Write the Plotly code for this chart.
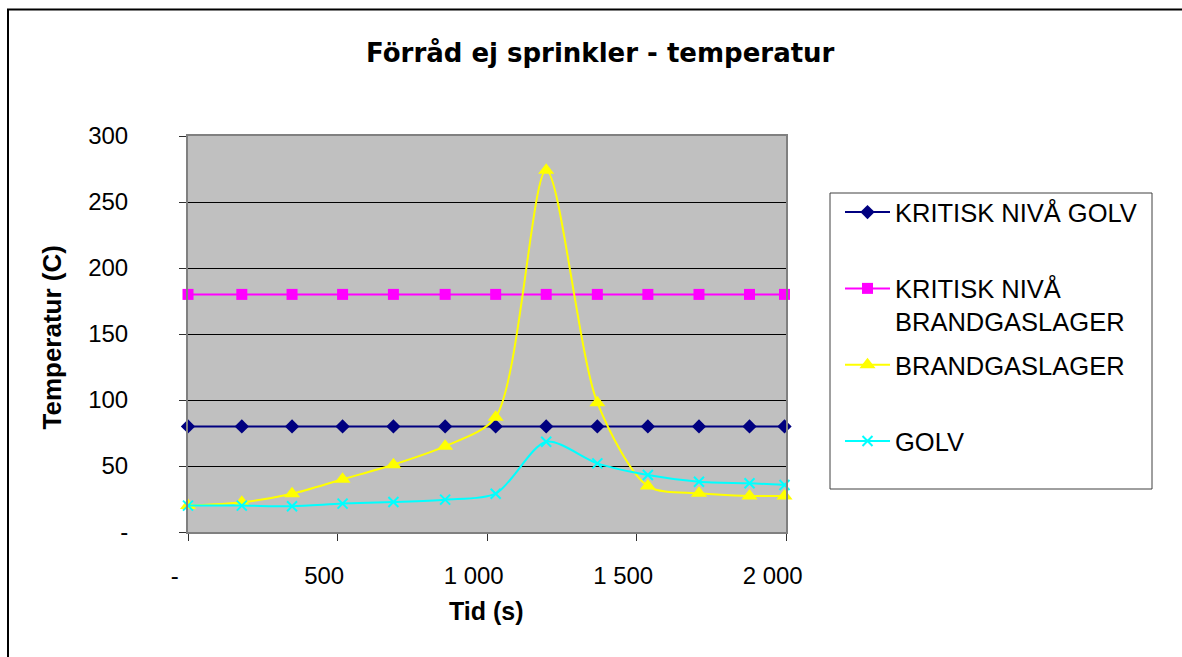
import plotly.graph_objects as go

# ---- data ----
time_s = [0, 180, 348, 517, 687, 860, 1029, 1198, 1369, 1538, 1709, 1878, 1995]
kritisk_golv = [80] * 13
kritisk_brandgas = [180] * 13
brandgaslager = [20, 22.5, 29, 40, 51, 65, 87, 274, 98, 34.8, 29.3, 27.3, 27.3]
golv = [20, 20, 19.5, 21.5, 22.7, 24.5, 29, 68.4, 52, 43.2, 38.1, 36.9, 35.6]

series_names = ["KRITISK NIVÅ GOLV", "KRITISK NIVÅ<br>BRANDGASLAGER", "BRANDGASLAGER", "GOLV"]

x_tickvals = [0, 500, 1000, 1500, 2000]
x_ticktext = ["-", "500", "1 000", "1 500", "2 000"]
y_tickvals = [0, 50, 100, 150, 200, 250, 300]
y_ticktext = ["-", "50", "100", "150", "200", "250", "300"]

NB = "\u00a0"
W, H = 1182, 657
L, R, T, B = 188, 786, 136, 532  # plot area in px


def px_x(p):
    return (p - L) / (R - L)


def px_y(p):
    return (B - p) / (B - T)


fig = go.Figure()

styles = [
    dict(color="#000080", symbol="diamond", size=11, mline=0),
    dict(color="#FF00FF", symbol="square", size=11, mline=0),
    dict(color="#FFFF00", symbol="triangle-up", size=14, mline=0),
    dict(color="#00FFFF", symbol="x-thin", size=10, mline=2),
]
datas = [kritisk_golv, kritisk_brandgas, brandgaslager, golv]

for i, (name, ys, st) in enumerate(zip(series_names, datas, styles)):
    label = name if "<br>" in name else name + "<br>" + NB
    fig.add_trace(go.Scatter(
        x=time_s, y=ys, name=label, mode="lines+markers",
        line=dict(color=st["color"], width=2, shape="spline", smoothing=0.8),
        marker=dict(symbol=st["symbol"], size=st["size"], color=st["color"],
                    line=dict(color=st["color"], width=st["mline"])),
        cliponaxis=False, legendgroup=f"g{i}",
    ))

fig.update_layout(
    width=W, height=H,
    margin=dict(l=L, r=W - R, t=T, b=H - B),
    paper_bgcolor="white", plot_bgcolor="#C0C0C0",
    font=dict(family="Liberation Sans, Arial, sans-serif", size=24, color="black"),
    showlegend=True,
    legend=dict(
        x=px_x(840), y=px_y(189), xanchor="left", yanchor="top",
        bgcolor="rgba(0,0,0,0)", borderwidth=0,
        font=dict(size=25.5, family="Liberation Sans, Arial, sans-serif"),
        valign="top", traceorder="grouped", tracegroupgap=7,
        itemwidth=45,
    ),
    xaxis=dict(
        range=[0, 2000], tickmode="array", tickvals=x_tickvals,
        ticktext=[t + NB * 4 for t in x_ticktext],
        ticks="outside", ticklen=7, tickcolor="#303030", tickwidth=1,
        showgrid=False, zeroline=False,
        showline=True, linecolor="#808080", linewidth=2, mirror=True,
        ticklabelstandoff=14,
        tickfont=dict(size=24),
    ),
    yaxis=dict(
        range=[0, 300], tickmode="array", tickvals=y_tickvals, ticktext=y_ticktext,
        ticks="outside", ticklen=7, tickcolor="#303030", tickwidth=1,
        showgrid=True, gridcolor="black", gridwidth=1, zeroline=False,
        showline=True, linecolor="#808080", linewidth=2, mirror=True,
        ticklabelstandoff=46,
        tickfont=dict(size=24),
    ),
    shapes=[
        # outer chart border (extends beyond the window on right/bottom)
        dict(type="rect", xref="paper", yref="paper",
             x0=px_x(8), x1=px_x(1200), y0=px_y(680), y1=px_y(9.5),
             line=dict(color="black", width=2), fillcolor="rgba(0,0,0,0)", layer="below"),
        # legend box
        dict(type="rect", xref="paper", yref="paper",
             x0=px_x(830), x1=px_x(1152), y0=px_y(489), y1=px_y(193),
             line=dict(color="#404040", width=1), fillcolor="rgba(0,0,0,0)"),
    ],
    annotations=[
        dict(text="<b>Förråd ej sprinkler - temperatur</b>", xref="paper", yref="paper",
             x=px_x(600.5), y=px_y(52.5), xanchor="center", yanchor="middle",
             showarrow=False, font=dict(size=26, family="DejaVu Sans, sans-serif")),
        dict(text="<b>Temperatur (C)</b>", xref="paper", yref="paper",
             x=px_x(51), y=px_y(337.5), xanchor="center", yanchor="middle",
             textangle=-90, showarrow=False, font=dict(size=26)),
        dict(text="<b>Tid (s)</b>", xref="paper", yref="paper",
             x=px_x(486.3), y=px_y(611), xanchor="center", yanchor="middle",
             showarrow=False, font=dict(size=25)),
    ],
)

fig.write_html("out.html")
